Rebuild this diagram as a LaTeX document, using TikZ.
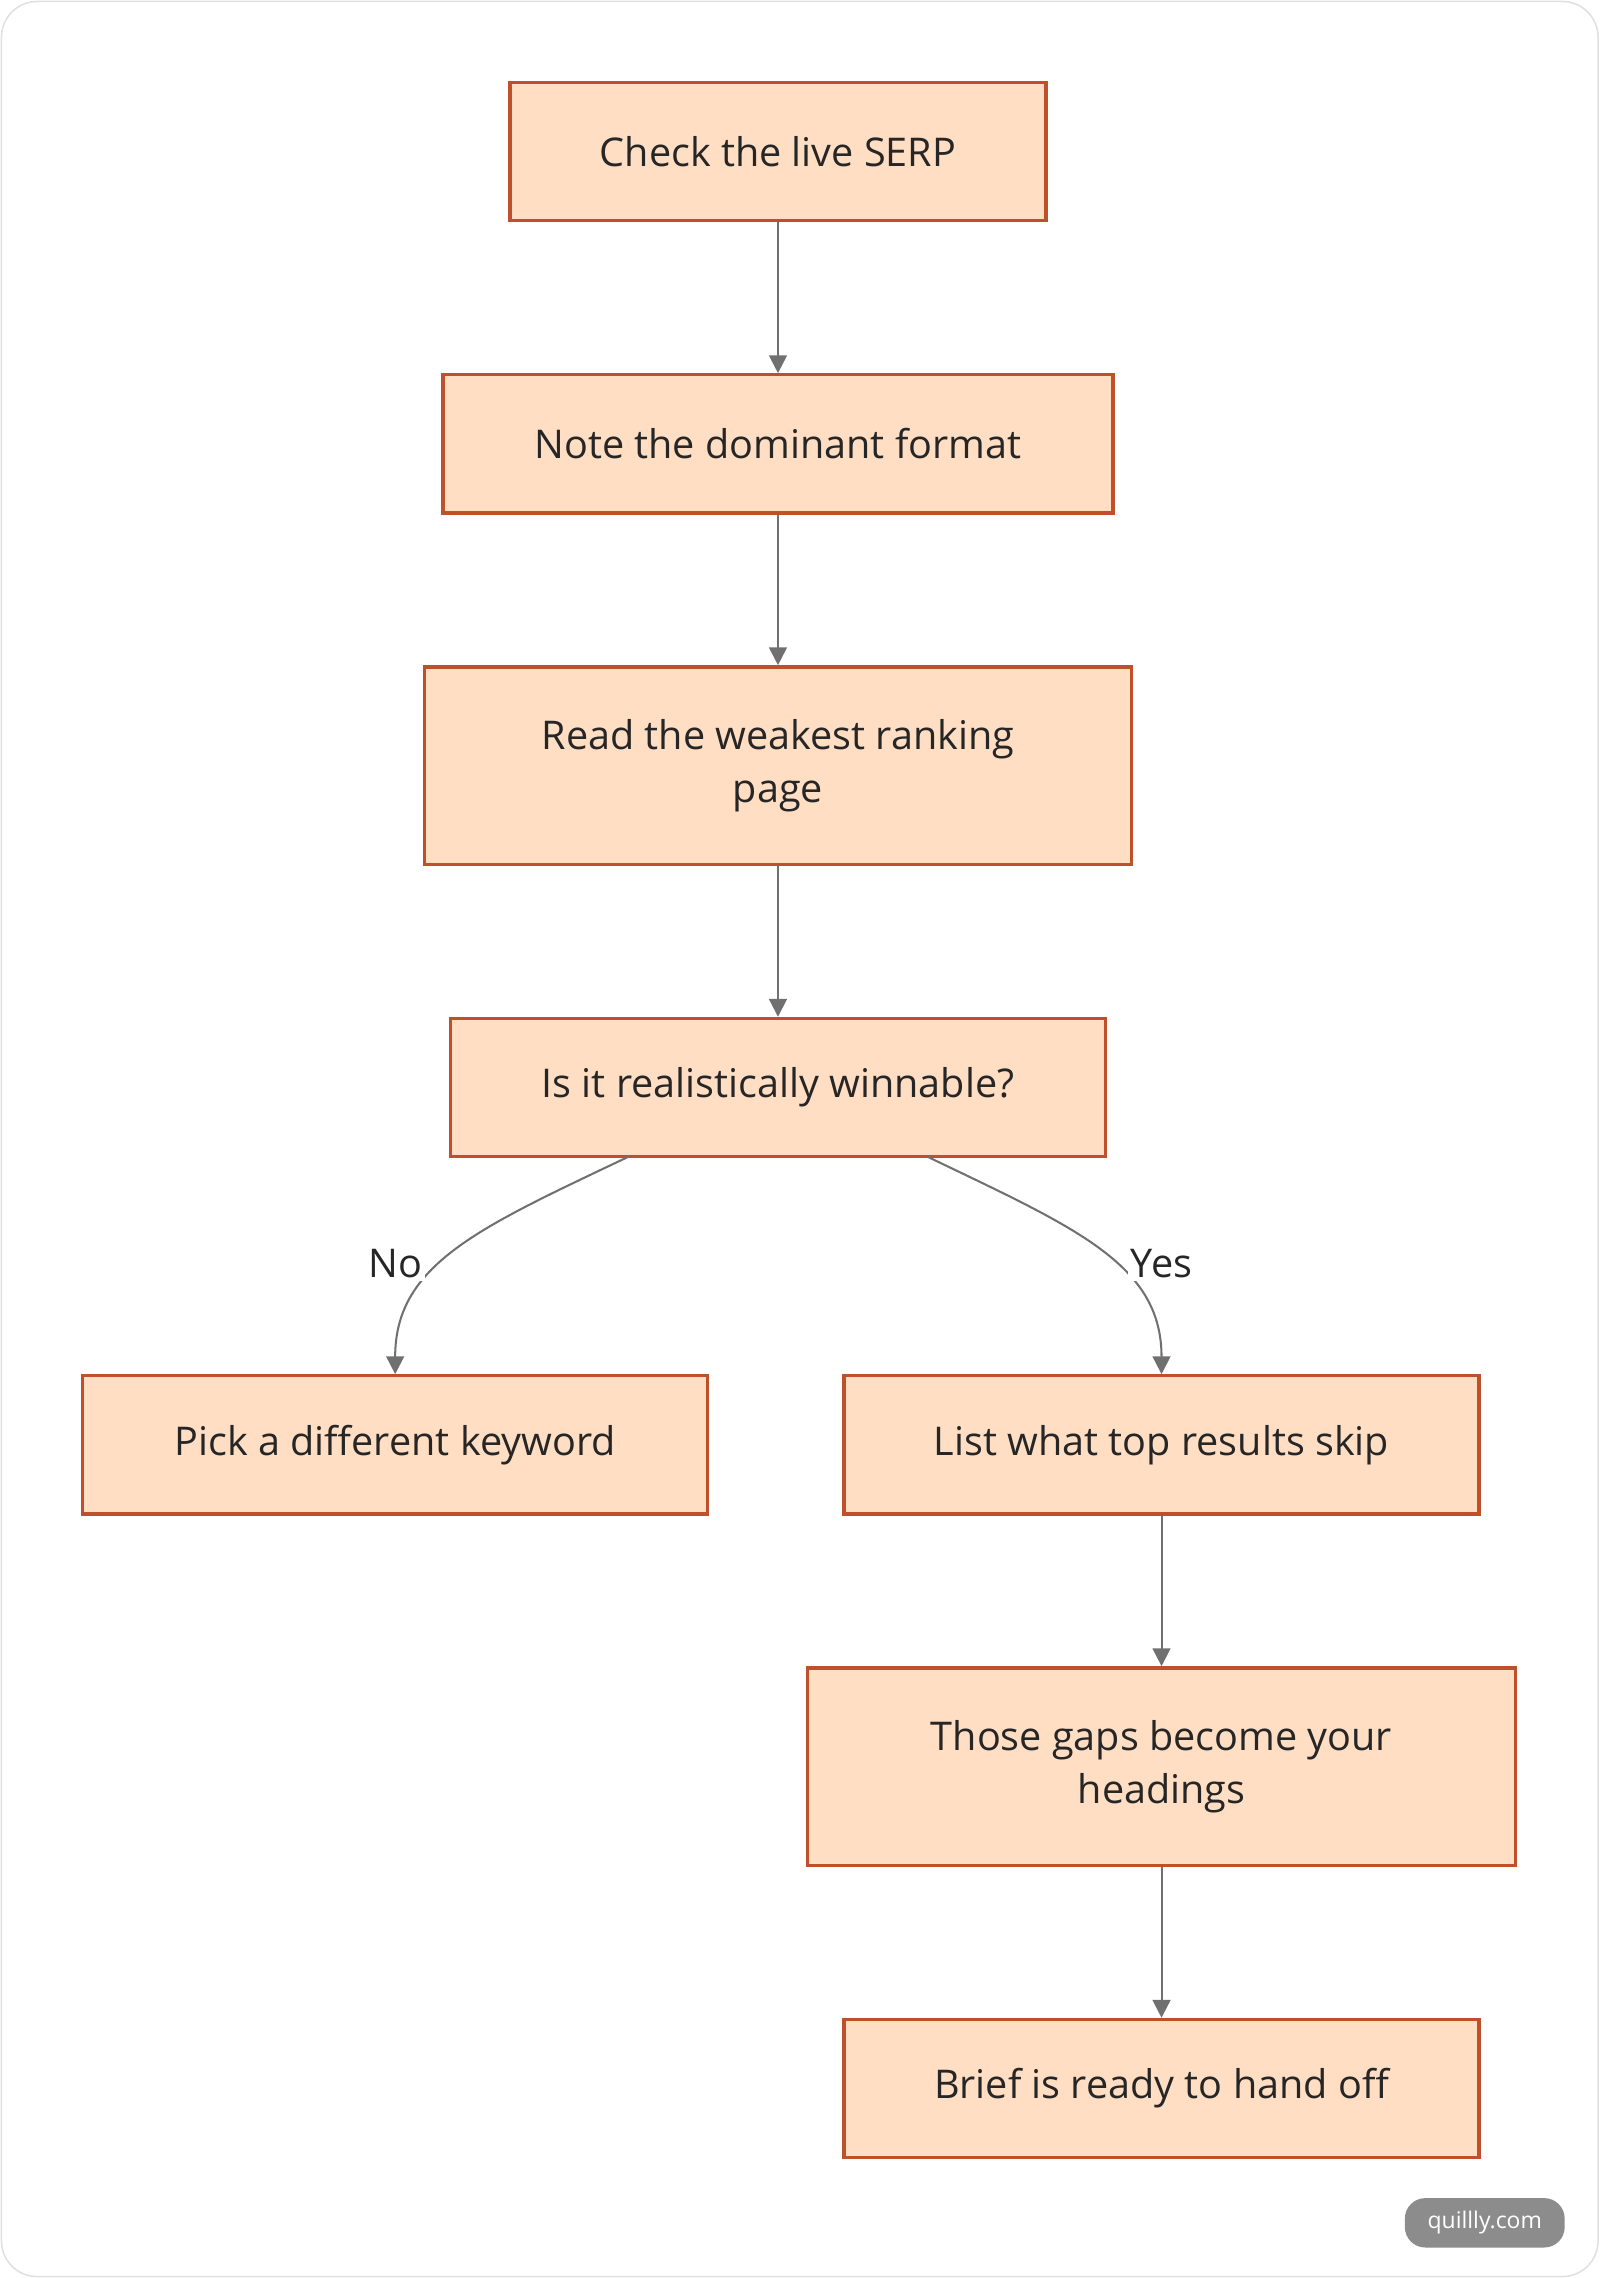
\documentclass[tikz,border=0pt]{standalone}
\usepackage{fontspec}
\setmainfont{Open Sans}
\usetikzlibrary{arrows.meta,calc}
\definecolor{stepfill}{HTML}{FFDEC4}
\definecolor{stepdraw}{HTML}{BE512B}
\definecolor{linkgray}{HTML}{707070}
\tikzset{>={Triangle[length=7pt,width=7pt]}}
\tikzstyle{stepbox}=[rectangle,draw=stepdraw,fill=stepfill,line width=1.3pt,align=center,font=\fontsize{15.5}{21}\selectfont,text=black!85]
\tikzstyle{link}=[->,draw=linkgray,line width=0.8pt]
\tikzstyle{tag}=[font=\fontsize{15.5}{19}\selectfont,fill=white,inner sep=1pt,text=black!85]

\begin{document}
\begin{tikzpicture}[x=0.02cm,y=-0.02cm,inner sep=0pt]
\def \colA {535.5};
\def \colB {272};
\def \colC {799.5};
\def \hsmall {95};
\def \hbig {136};

% frame
\draw[black!12,line width=0.6pt,rounded corners=14pt] (1,1) rectangle (1100,1567);
\useasboundingbox (0,0) rectangle (1101,1568);

\node[stepbox,minimum width=369*0.02cm,minimum height=\hsmall*0.02cm] (check) at (\colA,104.5) {Check the live SERP};
\node[stepbox,minimum width=461*0.02cm,minimum height=\hsmall*0.02cm] (note) at (\colA,305.5) {Note the dominant format};
\node[stepbox,minimum width=487*0.02cm,minimum height=\hbig*0.02cm] (read) at (\colA,527) {Read the weakest ranking\\page};
\node[stepbox,minimum width=451*0.02cm,minimum height=\hsmall*0.02cm] (win) at (\colA,748.5) {Is it realistically winnable?};
\node[stepbox,minimum width=430*0.02cm,minimum height=\hsmall*0.02cm] (pick) at (\colB,994.5) {Pick a different keyword};
\node[stepbox,minimum width=437*0.02cm,minimum height=\hsmall*0.02cm] (list) at (\colC,994.5) {List what top results skip};
\node[stepbox,minimum width=487*0.02cm,minimum height=\hbig*0.02cm] (gaps) at (\colC,1216) {Those gaps become your\\headings};
\node[stepbox,minimum width=437*0.02cm,minimum height=\hsmall*0.02cm] (brief) at (\colC,1437.5) {Brief is ready to hand off};

\draw[link] (check) -- (note);
\draw[link] (note) -- (read);
\draw[link] (read) -- (win);
\draw[link] (list) -- (gaps);
\draw[link] (gaps) -- (brief);

% branches
\coordinate (noOut) at (433,796);
\coordinate (yesOut) at (638,796);
\draw[link] (noOut) .. controls (330,845) and (272,870) .. (pick.north);
\draw[link] (yesOut) .. controls (740,845) and (799.5,870) .. (list.north);
\node[tag] (no) at (\colB,870) {No};
\node[tag] (yes) at (\colC,870) {Yes};

% badge
\node[fill=black!45,text=white,rounded corners=8pt,minimum width=110*0.02cm,minimum height=34*0.02cm,font=\fontsize{9}{11}\selectfont] (badge) at (1022,1530) {quillly.com};
\end{tikzpicture}
\end{document}
